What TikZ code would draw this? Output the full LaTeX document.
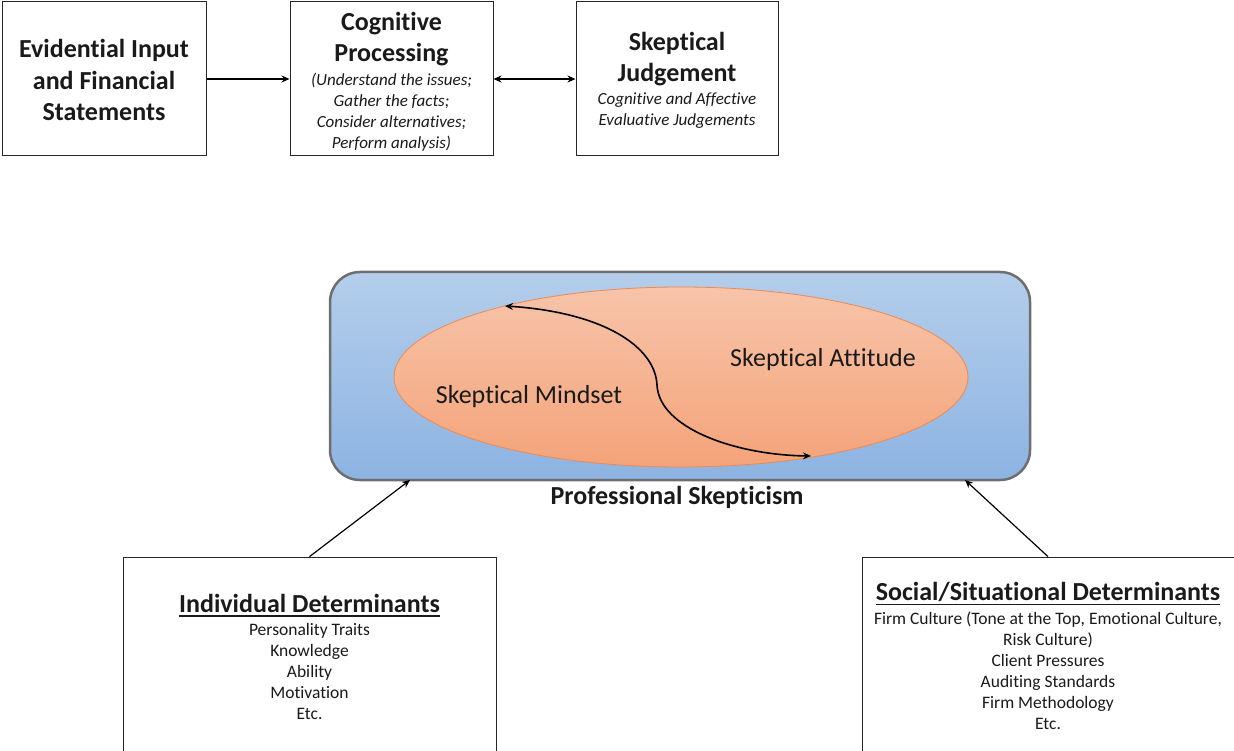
\documentclass[tikz,border=0pt]{standalone}
\usepackage{fontspec}
\setmainfont{Carlito}[Ligatures=NoCommon]
\usetikzlibrary{arrows.meta,shapes.geometric}
\definecolor{psTop}{HTML}{B4CEEB}
\definecolor{psBot}{HTML}{8DB3E2}
\definecolor{psLine}{HTML}{6E6E6E}
\definecolor{elTop}{HTML}{F7C4AA}
\definecolor{elBot}{HTML}{F4A379}
\definecolor{elLine}{HTML}{EE8A4E}
\definecolor{txt}{HTML}{1A1A1A}
\tikzset{
  box/.style={draw=black!85, line width=1pt, fill=white, inner sep=0pt},
  bigtxt/.style={font=\fontsize{26}{31.5}\selectfont\bfseries, align=center, inner sep=0pt, text=txt},
  ittxt/.style={font=\fontsize{17}{21}\selectfont\itshape, align=center, inner sep=0pt, text=txt},
  midtxt/.style={font=\fontsize{26}{31}\selectfont, inner sep=0pt, text=txt},
  headtxt/.style={font=\fontsize{26}{31}\selectfont\bfseries, inner sep=0pt, text=txt},
  listtxt/.style={font=\fontsize{17.5}{21}\selectfont, align=center, inner sep=0pt, text=txt},
  conn/.style={line width=1.3pt, -{Stealth[length=8pt,width=7pt]}},
  dconn/.style={line width=1.3pt, {Stealth[length=8pt,width=7pt]}-{Stealth[length=8pt,width=7pt]}},
  uline/.style={line width=1.6pt, draw=txt},
}
\begin{document}
\begin{tikzpicture}[x=1pt,y=-1pt]
\useasboundingbox (0,0) rectangle (1234,751);

% top row of process boxes
\node[box, minimum width=204pt, minimum height=154pt] (evid) at (104,79) {};
\node[box, minimum width=203pt, minimum height=154pt] (cog) at (391.5,79) {};
\node[box, minimum width=202pt, minimum height=154pt] (judg) at (677,79) {};

\node[bigtxt] (evidT) at (104,80) {Evidential Input\\and Financial\\Statements};
\node[bigtxt] (cogT) at (391.5,39) {Cognitive\\Processing};
\node[ittxt] (cogS) at (391.5,112) {(Understand the issues;\\Gather the facts;\\Consider alternatives;\\Perform analysis)};
\node[bigtxt] (judgT) at (677,59) {Skeptical\\Judgement};
\node[ittxt] (judgS) at (677,111) {Cognitive and Affective\\Evaluative Judgements};

\draw[conn] (evid.east) -- (cog.west);
\draw[dconn] (cog.east) -- (judg.west);

% professional skepticism container
\node[draw=psLine, line width=2.5pt, rounded corners=30pt, minimum width=700pt,
      minimum height=208pt, top color=psTop, bottom color=psBot] (ps) at (680,376) {};
\node[ellipse, draw=elLine, line width=0.8pt, minimum width=574pt, minimum height=180pt,
      inner sep=0pt, top color=elTop, bottom color=elBot] (ell) at (681,377) {};

\node[midtxt] (mind) at (529,397) {Skeptical Mindset};
\node[midtxt] (att) at (823,360) {Skeptical Attitude};

\coordinate (cs) at (505,306);
\coordinate (cm) at (657,385);
\coordinate (ce) at (811,456);
\draw[line width=1.6pt, {Stealth[length=8pt,width=7pt]}-{Stealth[length=8pt,width=7pt]}]
  (cs) .. controls (600,312) and (655,345) .. (cm)
       .. controls (659,428) and (735,455) .. (ce);

\node[headtxt] (psT) at (677,497) {Professional Skepticism};

% determinant boxes
\node[box, line width=0.8pt, minimum width=373pt, minimum height=194pt] (ind) at (309.5,654) {};
\node[box, line width=0.8pt, minimum width=372pt, minimum height=194pt] (soc) at (1048,654) {};

\node[headtxt] (indH) at (309.5,603) {Individual Determinants};
\draw[uline] ([yshift=-4pt]indH.base west) -- ([yshift=-4pt]indH.base east);
\node[listtxt] (indL) at (309.5,671) {Personality Traits\\Knowledge\\Ability\\Motivation\\Etc.};

\node[headtxt] (socH) at (1048,592) {Social/Situational Determinants};
\draw[uline] ([yshift=-4pt]socH.base west) -- ([yshift=-4pt]socH.base east);
\node[listtxt] (socL) at (1048,671) {Firm Culture (Tone at the Top, Emotional Culture,\\Risk Culture)\\Client Pressures\\Auditing Standards\\Firm Methodology\\Etc.};

\coordinate (pL) at (410,480);
\coordinate (pR) at (965,480);
\draw[conn, line width=1.2pt] (ind.north) -- (pL);
\draw[conn, line width=1.2pt] (soc.north) -- (pR);
\end{tikzpicture}
\end{document}
